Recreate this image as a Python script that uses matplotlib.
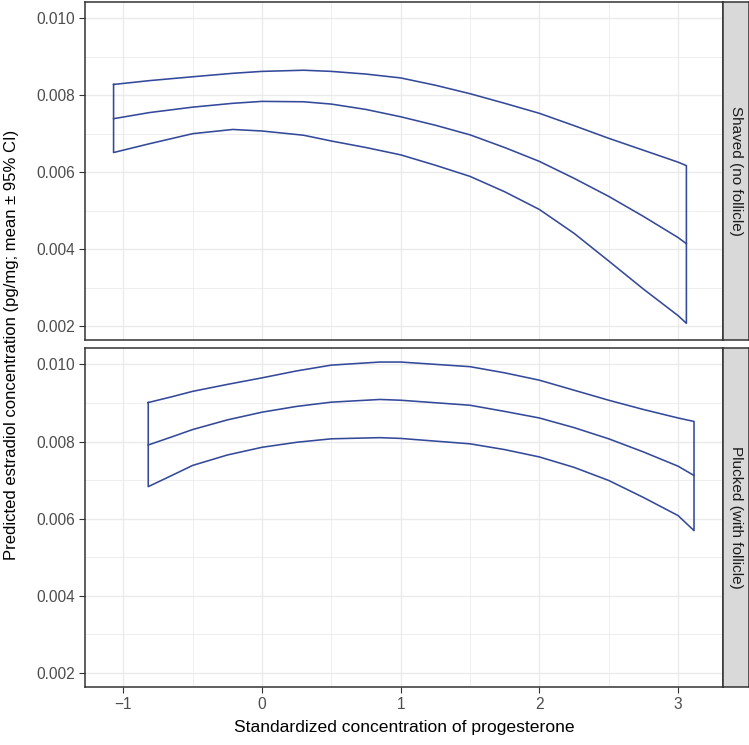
import numpy as np
import matplotlib
matplotlib.use("Agg")
import matplotlib.pyplot as plt
from matplotlib.ticker import MultipleLocator

plt.rcParams['font.family'] = ['Liberation Sans', 'DejaVu Sans']

# facet labels
facets = ['Shaved (no follicle)', 'Plucked (with follicle)']

# Shaved (no follicle)
x_shaved = [-1.07, -0.81, -0.5, -0.21, 0.0, 0.3, 0.5, 0.75, 1.0, 1.25, 1.5, 1.75, 2.0, 2.25, 2.5, 2.75, 3.0, 3.06]
upper_shaved = [0.00828, 0.00838, 0.00848, 0.00857, 0.00862, 0.00865, 0.00862, 0.00855, 0.00845, 0.00826, 0.00804, 0.00779,
                0.00753, 0.00721, 0.00688, 0.00657, 0.00626, 0.00617]
mean_shaved = [0.00739, 0.00755, 0.00769, 0.00779, 0.00784, 0.00783, 0.00777, 0.00763, 0.00744, 0.00722, 0.00697, 0.00664,
               0.00628, 0.00584, 0.00537, 0.00485, 0.00430, 0.00414]
lower_shaved = [0.00651, 0.00674, 0.00700, 0.00711, 0.00707, 0.00696, 0.00681, 0.00664, 0.00645, 0.00618, 0.00589, 0.00549,
                0.00503, 0.00441, 0.00369, 0.00296, 0.00227, 0.00207]

# Plucked (with follicle)
x_plucked = [-0.82, -0.65, -0.5, -0.25, 0.0, 0.25, 0.5, 0.85, 1.0, 1.5, 1.75, 2.0, 2.25, 2.5, 2.75, 3.0, 3.115]
upper_plucked = [0.00901, 0.00916, 0.00930, 0.00948, 0.00965, 0.00983, 0.00998, 0.01006, 0.01006, 0.00994, 0.00978,
                 0.00959, 0.00933, 0.00907, 0.00883, 0.00861, 0.00852]
mean_plucked = [0.00791, 0.00812, 0.00831, 0.00856, 0.00876, 0.00891, 0.00902, 0.00909, 0.00907, 0.00894, 0.00878,
                0.00861, 0.00836, 0.00807, 0.00773, 0.00736, 0.00712]
lower_plucked = [0.00683, 0.00712, 0.00738, 0.00765, 0.00785, 0.00798, 0.00807, 0.00810, 0.00808, 0.00794, 0.00779,
                 0.00760, 0.00733, 0.00699, 0.00655, 0.00608, 0.00569]

x_ticks = [-1, 0, 1, 2, 3]
y_ticks = [0.002, 0.004, 0.006, 0.008, 0.010]

line_col = '#34499A'
border_col = '#333333'

W, H = 749, 745
fig = plt.figure(figsize=(W / 100, H / 100), dpi=100)

panels = [(2, 340), (348, 687)]
series = [(x_shaved, upper_shaved, mean_shaved, lower_shaved),
          (x_plucked, upper_plucked, mean_plucked, lower_plucked)]

for i, ((top, bot), (xs, up, mn, lo), lab) in enumerate(zip(panels, series, facets)):
    ax = fig.add_axes([85 / W, 1 - bot / H, (723 - 85) / W, (bot - top) / H])
    xs = np.array(xs)
    # ribbon outline (no fill) + mean line
    px = np.concatenate([xs, xs[::-1], xs[:1]])
    py = np.concatenate([up, lo[::-1], up[:1]])
    ax.plot(px, py, color=line_col, lw=1.15, solid_joinstyle='round')
    ax.plot(xs, mn, color=line_col, lw=1.15, solid_joinstyle='round')

    ax.set_xlim(-1.276, 3.324)
    ax.set_ylim(0.001636, 0.010424)
    ax.set_xticks(x_ticks)
    ax.set_yticks(y_ticks)
    ax.set_yticklabels(['%.3f' % v for v in y_ticks])
    ax.xaxis.set_minor_locator(MultipleLocator(0.5))
    ax.yaxis.set_minor_locator(MultipleLocator(0.001))
    ax.grid(which='major', color='#EBEBEB', lw=1.0)
    ax.grid(which='minor', color='#EBEBEB', lw=0.6)
    ax.set_axisbelow(True)
    ax.tick_params(which='minor', length=0)
    ax.tick_params(which='major', length=4, width=0.8, color=border_col,
                   labelsize=11.2, labelcolor='#4D4D4D', pad=3)
    for s in ax.spines.values():
        s.set_color(border_col)
        s.set_linewidth(1.1)
    if i == 0:
        ax.tick_params(axis='x', labelbottom=False, length=0)
    else:
        ax.set_xticklabels(['\u22121', '0', '1', '2', '3'])
        ax.set_xlabel('Standardized concentration of progesterone', fontsize=12.6, labelpad=6)

    # strip on the right
    sx = fig.add_axes([723 / W, 1 - bot / H, 25.5 / W, (bot - top) / H])
    sx.set_facecolor('#D9D9D9')
    sx.set_xticks([])
    sx.set_yticks([])
    for s in sx.spines.values():
        s.set_color(border_col)
        s.set_linewidth(1.1)
    sx.text(0.5, 0.5, lab, rotation=-90, ha='center', va='center',
            fontsize=11, color='#1A1A1A', transform=sx.transAxes)

fig.text(12 / W, 1 - 345 / H, 'Predicted estradiol concentration (pg/mg; mean \u00b1 95% CI)',
         rotation=90, ha='center', va='center', fontsize=12)

fig.savefig('out.png', dpi=100)
